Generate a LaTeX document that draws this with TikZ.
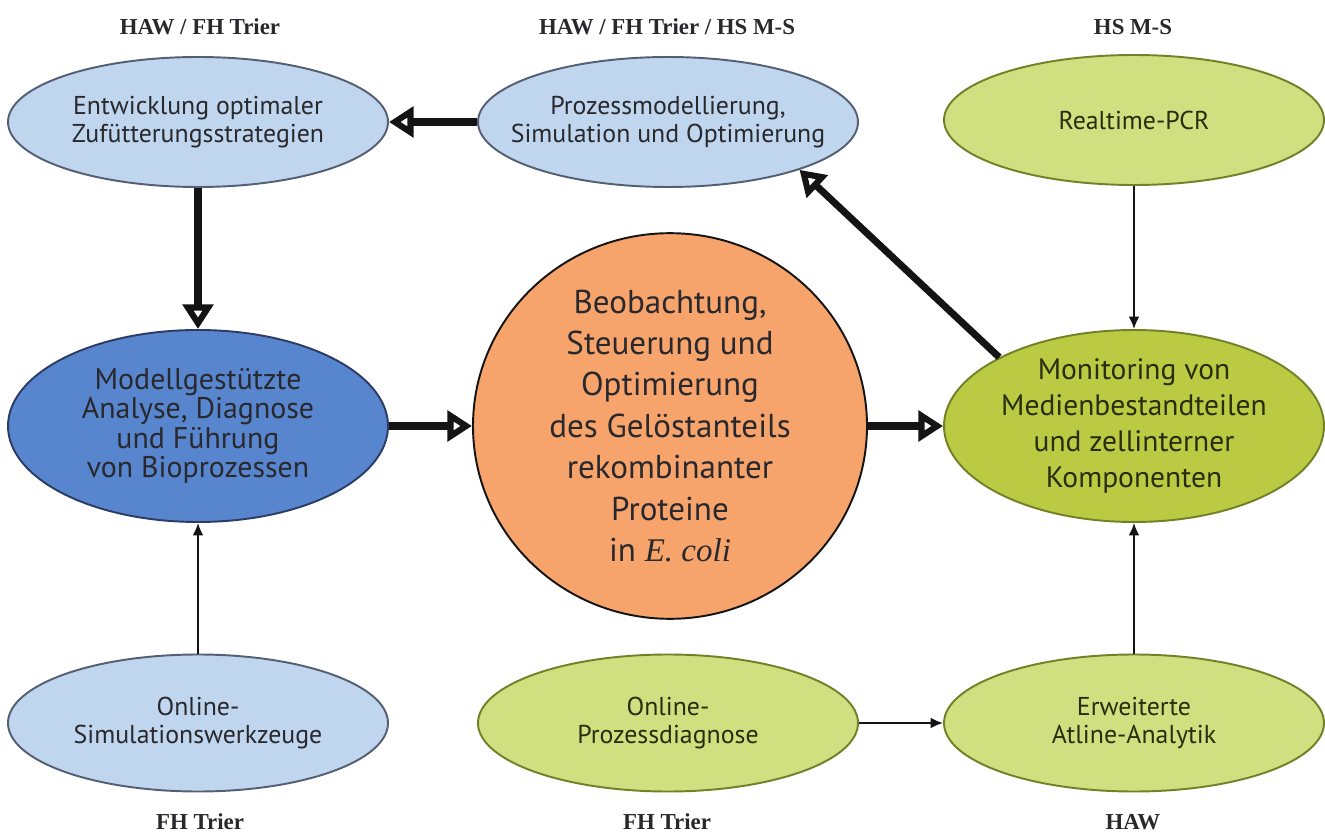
\documentclass[tikz,border=0pt]{standalone}
\usepackage{fontspec}
\setmainfont{PT Sans}
\newfontfamily\labserif{Liberation Serif}
\usetikzlibrary{arrows.meta,shapes.geometric}
\definecolor{figline}{RGB}{20,20,20}
\definecolor{figtext}{RGB}{40,40,45}
\definecolor{figgtext}{RGB}{40,45,12}
\definecolor{figblue}{RGB}{192,214,238}
\definecolor{figblueb}{RGB}{85,95,115}
\definecolor{figblued}{RGB}{88,134,206}
\definecolor{figbluedb}{RGB}{45,60,100}
\definecolor{figorange}{RGB}{247,164,108}
\definecolor{figgreen}{RGB}{208,224,128}
\definecolor{figolive}{RGB}{186,202,66}
\definecolor{figgreenb}{RGB}{115,128,40}
\tikzset{
  elb/.style  ={ellipse, draw=figblueb, fill=figblue, line width=1.1pt, inner sep=0pt,
                minimum width=7.6cm, minimum height=2.6cm, align=center, text=figtext,
                font=\fontsize{14.7}{15.6}\selectfont},
  elg/.style  ={elb, draw=figgreenb, fill=figgreen, text=figgtext},
  elm/.style  ={ellipse, line width=1.1pt, inner sep=0pt, minimum width=7.6cm,
                minimum height=3.84cm, align=center, font=\fontsize{17}{16.8}\selectfont},
  kreis/.style={ellipse, draw=figline, fill=figorange, line width=1.1pt, inner sep=0pt,
                minimum width=7.88cm, minimum height=7.36cm, align=center, text=figtext,
                font=\fontsize{18.8}{23.6}\selectfont},
  lab/.style  ={font=\labserif\bfseries\fontsize{13}{14}\selectfont, text=figtext, inner sep=1pt},
  thk/.style  ={draw=figline, line width=4pt,
                -{Triangle[open,length=14pt,width=17pt,line width=3.6pt]}},
  thn/.style  ={draw=figline, line width=1.1pt, -{Latex[length=7pt,width=6pt]}},
}
\begin{document}
\begin{tikzpicture}
  \useasboundingbox (0,0) rectangle (26.5,16.76);
  % obere Reihe
  \node[elb] (ent) at (3.96,14.32) {Entwicklung optimaler\\Zufütterungsstrategien};
  \node[elb, inner xsep=-0.6cm] (proz) at (13.36,14.32) {Prozessmodellierung,\\Simulation und Optimierung};
  \node[elg] (pcr) at (22.68,14.36) {Realtime-PCR};
  % mittlere Reihe
  \node[elm, draw=figbluedb, fill=figblued, text=figtext] (modell) at (3.96,8.24)
    {Modellgestützte\\Analyse, Diagnose\\und Führung\\von Bioprozessen};
  \node[kreis] (zentrum) at (13.4,8.24)
    {Beobachtung,\\Steuerung und\\Optimierung\\des Gelöstanteils\\rekombinanter\\Proteine\\in {\labserif\itshape E. coli}};
  \node[elm, draw=figgreenb, fill=figolive, text=figgtext,
        font=\fontsize{16.8}{20.5}\selectfont] (monit) at (22.68,8.24)
    {Monitoring von\\Medienbestandteilen\\und zellinterner\\Komponenten};
  % untere Reihe
  \node[elb, minimum height=2.74cm] (onsim) at (3.96,2.3) {Online-\\Simulationswerkzeuge};
  \node[elg, minimum height=2.74cm] (ondiag) at (13.36,2.3) {Online-\\Prozessdiagnose};
  \node[elg, minimum height=2.74cm] (atline) at (22.68,2.3) {Erweiterte\\Atline-Analytik};
  % Hochschulen
  \node[lab] (hent) at (4.0,16.22) {HAW / FH Trier};
  \node[lab] (hproz) at (13.34,16.22) {HAW / FH Trier / HS M-S};
  \node[lab] (hpcr) at (22.66,16.22) {HS M-S};
  \node[lab] (honsim) at (4.0,0.32) {FH Trier};
  \node[lab] (hondiag) at (13.34,0.32) {FH Trier};
  \node[lab] (hatline) at (22.66,0.32) {HAW};
  % Pfeile
  \draw[thk] (proz) -- (ent);
  \draw[thk] (ent) -- (modell);
  \draw[thk] (modell) -- (zentrum);
  \draw[thk] (zentrum) -- (monit);
  \draw[thk] (monit.153) -- (proz.340);
  \draw[thn] (pcr) -- (monit);
  \draw[thn] (onsim) -- (modell);
  \draw[thn] (ondiag) -- (atline);
  \draw[thn] (atline) -- (monit);
\end{tikzpicture}
\end{document}
